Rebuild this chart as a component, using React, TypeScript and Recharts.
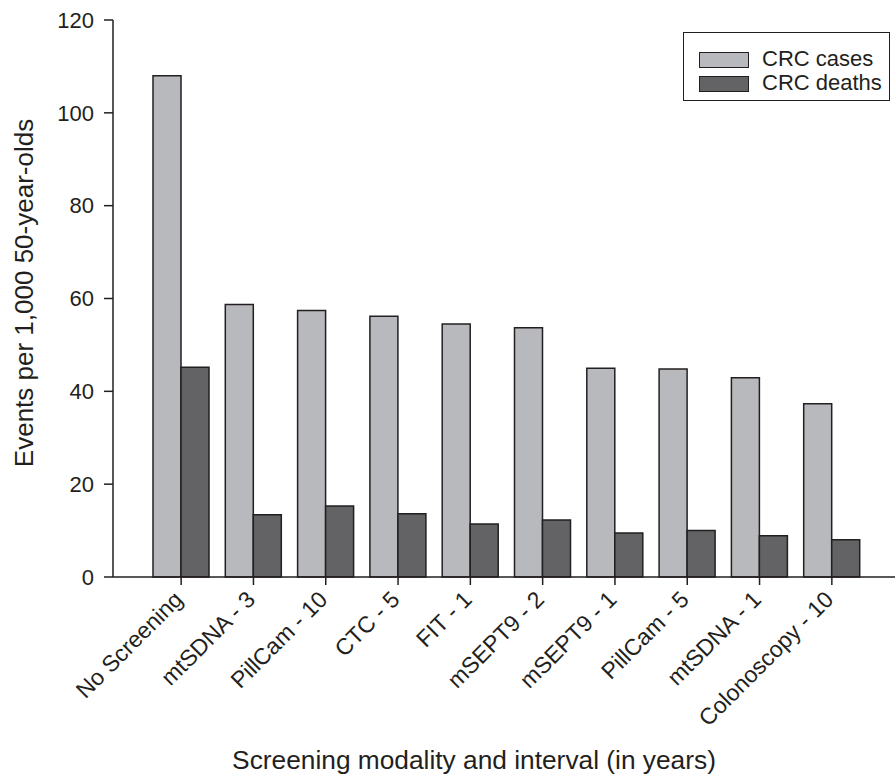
import React from 'react';
import { BarChart, Bar, XAxis, YAxis, Legend } from 'recharts';

const modalities = [
  'No Screening',
  'mtSDNA - 3',
  'PillCam - 10',
  'CTC - 5',
  'FIT - 1',
  'mSEPT9 - 2',
  'mSEPT9 - 1',
  'PillCam - 5',
  'mtSDNA - 1',
  'Colonoscopy - 10',
];
const crcCases = [108, 58.7, 57.4, 56.2, 54.5, 53.7, 45.0, 44.8, 42.9, 37.3];
const crcDeaths = [45.2, 13.4, 15.3, 13.6, 11.4, 12.3, 9.5, 10.0, 8.9, 8.0];
const yTicks = [0, 20, 40, 60, 80, 100, 120];

const data = modalities.map((name, i) => ({
  name,
  cases: crcCases[i],
  deaths: crcDeaths[i],
}));

const FONT = '"Liberation Sans", Arial, Helvetica, sans-serif';
const INK = '#231f20';
const LIGHT = '#b8b9bc';
const DARK = '#636365';

const SlantTick = (props: any) => {
  const { x, y, payload } = props;
  return (
    <g transform={`translate(${x + 3},${y + 14})`}>
      <text
        x={0}
        y={0}
        textAnchor="end"
        transform="rotate(-45)"
        fontFamily={FONT}
        fontSize={23}
        fill={INK}
      >
        {payload.value}
      </text>
    </g>
  );
};

const LegendBox = () => (
  <div
    style={{
      boxSizing: 'border-box',
      width: 207,
      height: 69,
      border: `1.5px solid ${INK}`,
      background: '#fff',
      position: 'relative',
      fontFamily: FONT,
      fontSize: 22,
      color: INK,
    }}
  >
    {[
      { label: 'CRC cases', fill: LIGHT },
      { label: 'CRC deaths', fill: DARK },
    ].map((item, i) => (
      <div key={item.label}>
        <div
          style={{
            position: 'absolute',
            left: 15,
            top: 19 + i * 24,
            width: 50,
            height: 16,
            boxSizing: 'border-box',
            background: item.fill,
            border: `1.5px solid ${INK}`,
          }}
        />
        <div
          style={{
            position: 'absolute',
            left: 78,
            top: 13 + i * 24,
            lineHeight: '25px',
            whiteSpace: 'nowrap',
          }}
        >
          {item.label}
        </div>
      </div>
    ))}
  </div>
);

export default function App() {
  return (
    <div style={{ width: 895, height: 777, background: '#fff' }}>
      <style>{'body{margin:0;}'}</style>
      <BarChart
        width={895}
        height={777}
        data={data}
        margin={{ top: 20, right: 0, left: 0, bottom: 0 }}
        barGap={0}
        barSize={28}
      >
        <XAxis
          dataKey="name"
          height={200}
          padding={{ left: 32, right: 27 }}
          interval={0}
          tickSize={8}
          stroke={INK}
          strokeWidth={1.5}
          tickLine={{ stroke: INK, strokeWidth: 1.5 }}
          tick={<SlantTick />}
          label={{
            content: () => (
              <text
                x={474}
                y={769}
                textAnchor="middle"
                fontFamily={FONT}
                fontSize={26.3}
                fill={INK}
              >
                Screening modality and interval (in years)
              </text>
            ),
          }}
        />
        <YAxis
          width={113}
          domain={[0, 120]}
          ticks={yTicks}
          tickSize={9}
          tickMargin={10}
          stroke={INK}
          strokeWidth={1.5}
          tickLine={{ stroke: INK, strokeWidth: 1.5 }}
          tick={{ fill: INK, fontSize: 22, fontFamily: FONT }}
          label={{
            content: () => (
              <text
                x={33}
                y={293}
                textAnchor="middle"
                transform="rotate(-90, 33, 293)"
                fontFamily={FONT}
                fontSize={26}
                fill={INK}
              >
                Events per 1,000 50-year-olds
              </text>
            ),
          }}
        />
        <Legend
          layout="horizontal"
          verticalAlign="middle"
          align="center"
          content={<LegendBox />}
          wrapperStyle={{ left: 683, top: 32, width: 207, height: 69 }}
        />
        <Bar
          dataKey="cases"
          name="CRC cases"
          fill={LIGHT}
          stroke={INK}
          strokeWidth={1.5}
          isAnimationActive={false}
        />
        <Bar
          dataKey="deaths"
          name="CRC deaths"
          fill={DARK}
          stroke={INK}
          strokeWidth={1.5}
          isAnimationActive={false}
        />
      </BarChart>
    </div>
  );
}
